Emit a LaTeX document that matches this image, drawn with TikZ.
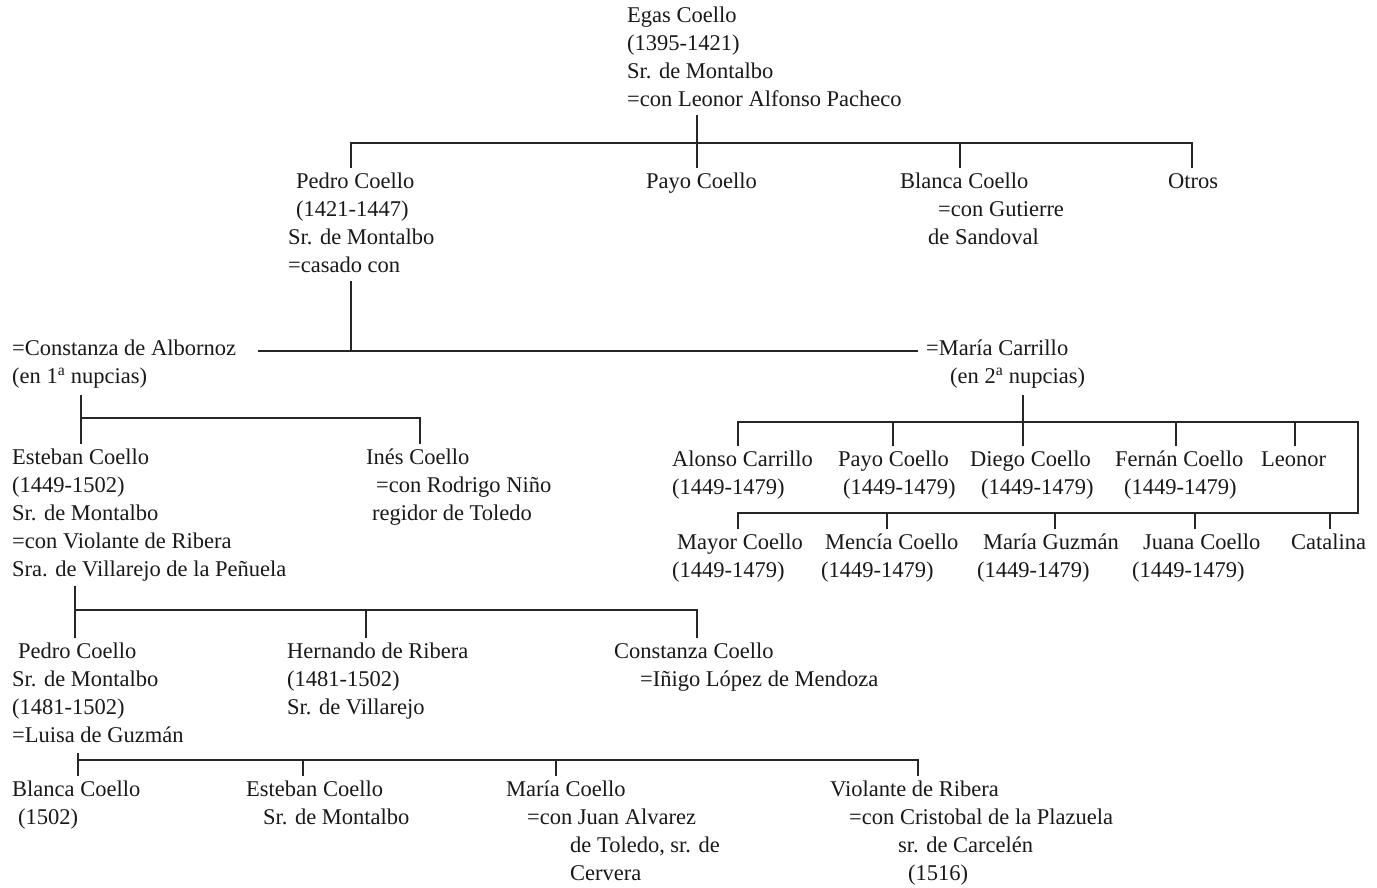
\documentclass[tikz,border=0pt]{standalone}
\usepackage{fontspec}
\setmainfont{Liberation Serif}
\newcommand\hs[1]{\hspace*{#1pt}}
\begin{document}
\begin{tikzpicture}[x=1pt,y=-1pt,
  line/.style={line width=1.3pt, draw=black!85},
  txt/.style={anchor=north west, inner sep=0pt, align=left, yshift=19.6pt,
              font=\fontsize{22.5}{28}\selectfont, text=black!90}]
\useasboundingbox[fill=white] (0,0) rectangle (1377,887);

% ---- generation 1
\node[txt] (egas) at (627,22) {\strut Egas Coello\\\strut (1395-1421)\\\strut Sr. de Montalbo\\\strut =con Leonor Alfonso Pacheco};

% ---- generation 2
\node[txt] (pedro1) at (288,188) {\strut\hs{8}Pedro Coello\\\strut\hs{8}(1421-1447)\\\strut Sr. de Montalbo\\\strut =casado con};
\node[txt] (payo1) at (646,188) {\strut Payo Coello};
\node[txt] (blanca1) at (900,188) {\strut Blanca Coello\\\strut\hs{38}=con Gutierre\\\strut\hs{28}de Sandoval};
\node[txt] (otros) at (1168,188) {\strut Otros};

% ---- wives
\node[txt] (constanza) at (12,355) {\strut =Constanza de Albornoz\\\strut (en 1\textsuperscript{a} nupcias)};
\node[txt] (carrillo) at (926,355) {\strut =María Carrillo\\\strut\hs{24}(en 2\textsuperscript{a} nupcias)};

% ---- children of first marriage
\node[txt] (esteban1) at (12,464) {\strut Esteban Coello\\\strut (1449-1502)\\\strut Sr. de Montalbo\\\strut =con Violante de Ribera\\\strut Sra. de Villarejo de la Peñuela};
\node[txt] (ines) at (366,464) {\strut Inés Coello\\\strut\hs{10}=con Rodrigo Niño\\\strut\hs{6}regidor de Toledo};

% ---- children of second marriage
\node[txt] (alonso) at (672,466) {\strut Alonso Carrillo\\\strut (1449-1479)};
\node[txt] (payo2) at (838,466) {\strut Payo Coello\\\strut\hs{5}(1449-1479)};
\node[txt] (diego) at (970,466) {\strut Diego Coello\\\strut\hs{11}(1449-1479)};
\node[txt] (fernan) at (1115,466) {\strut Fernán Coello\\\strut\hs{9}(1449-1479)};
\node[txt] (leonor) at (1261,466) {\strut Leonor};
\node[txt] (mayor) at (672,549) {\strut\hs{5}Mayor Coello\\\strut (1449-1479)};
\node[txt] (mencia) at (821,549) {\strut\hs{4}Mencía Coello\\\strut (1449-1479)};
\node[txt] (mguzman) at (977,549) {\strut\hs{6}María Guzmán\\\strut (1449-1479)};
\node[txt] (juana) at (1132,549) {\strut\hs{11}Juana\hs{6}Coello\\\strut (1449-1479)};
\node[txt] (catalina) at (1291,549) {\strut Catalina};

% ---- children of Esteban
\node[txt] (pedro2) at (12,658) {\strut\hs{6}Pedro Coello\\\strut Sr. de Montalbo\\\strut (1481-1502)\\\strut =Luisa de Guzmán};
\node[txt] (hernando) at (287,658) {\strut Hernando de Ribera\\\strut (1481-1502)\\\strut Sr. de Villarejo};
\node[txt] (constanzac) at (614,658) {\strut Constanza Coello\\\strut\hs{26}=Iñigo López de Mendoza};

% ---- children of Pedro
\node[txt] (blanca2) at (12,796) {\strut Blanca Coello\\\strut\hs{6}(1502)};
\node[txt] (esteban2) at (246,796) {\strut Esteban Coello\\\strut\hs{17}Sr. de Montalbo};
\node[txt] (mariac) at (506,796) {\strut María Coello\\\strut\hs{21}=con Juan Alvarez\\\strut\hs{64}de Toledo, sr. de\\\strut\hs{64}Cervera};
\node[txt] (violante) at (830,796) {\strut Violante de Ribera\\\strut\hs{19}=con Cristobal de la Plazuela\\\strut\hs{68}sr. de Carcelén\\\strut\hs{78}(1516)};

% ---- connectors: generation 1 -> 2
\coordinate (g1) at (697,143);
\coordinate (g1l) at (351,143);
\coordinate (g1b) at (960,143);
\coordinate (g1r) at (1192,143);
\draw[line] (g1 |- egas.south) -- (g1 |- payo1.north);
\draw[line] (g1l |- pedro1.north) -- (g1l) -- (g1r) -- (g1r |- otros.north);
\draw[line] (g1b) -- (g1b |- blanca1.north);

% ---- marriage line
\coordinate (m1) at (351,351);
\coordinate (m1l) at (258,351);
\draw[line] (m1 |- pedro1.south) -- (m1);
\draw[line] (m1l) -- ([xshift=-8pt]carrillo.west |- m1);

% ---- first marriage children
\coordinate (c1) at (81,418);
\coordinate (c1r) at (420,418);
\draw[line] (c1 |- constanza.south) ++(0,3) -- (c1 |- esteban1.north);
\draw[line] (c1) -- (c1r) -- (c1r |- ines.north);

% ---- second marriage children
\coordinate (c2) at (1023,422);
\coordinate (c2l) at (738,422);
\coordinate (c2r) at (1358,422);
\coordinate (c3l) at (738,513);
\coordinate (c3r) at (1358,513);
\draw[line] (c2 |- carrillo.south) ++(0,3) -- (c2 |- diego.north);
\draw[line] (c2l |- alonso.north) -- (c2l) -- (c2r) -- (c3r) -- (c3l) -- (c3l |- mayor.north);
\foreach \x/\n in {893/payo2, 1176/fernan, 1295/leonor}
  \draw[line] (\x,422) -- (\x,422 |- \n.north);
\foreach \x/\n in {887/mencia, 1055/mguzman, 1195/juana, 1330/catalina}
  \draw[line] (\x,513) -- (\x,513 |- \n.north);

% ---- Esteban's children
\coordinate (c4) at (75,610);
\coordinate (c4m) at (366,610);
\coordinate (c4r) at (697,610);
\draw[line] (c4 |- esteban1.south) ++(0,1) -- (c4 |- pedro2.north);
\draw[line] (c4) -- (c4r) -- (c4r |- constanzac.north);
\draw[line] (c4m) -- (c4m |- hernando.north);

% ---- Pedro's children
\coordinate (c5) at (78,760);
\coordinate (c5a) at (303,760);
\coordinate (c5b) at (556,760);
\coordinate (c5r) at (918,760);
\draw[line] (c5 |- pedro2.south) ++(0,2) -- (c5 |- blanca2.north);
\draw[line] (c5) -- (c5r) -- (c5r |- violante.north);
\draw[line] (c5a) -- (c5a |- esteban2.north);
\draw[line] (c5b) -- (c5b |- mariac.north);
\end{tikzpicture}
\end{document}
